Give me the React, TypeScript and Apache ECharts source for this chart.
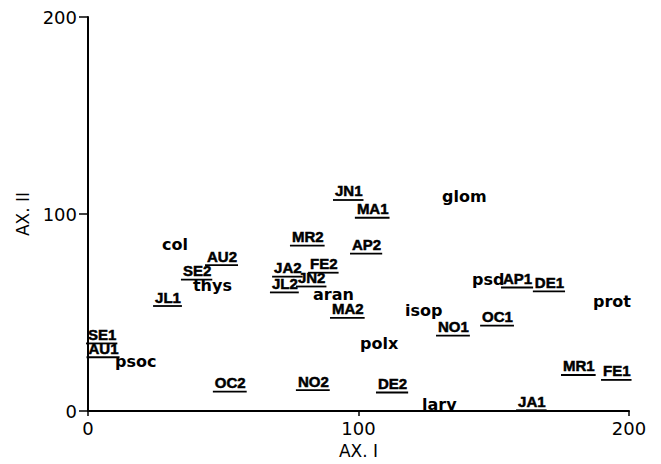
import React, { useEffect, useRef } from "react";
import * as echarts from "echarts";

// Sample labels (underlined)
const sampleNames = ["JN1", "MA1", "MR2", "AP2", "AU2", "SE2", "JL1", "JA2", "FE2", "JL2", "JN2", "MA2", "AP1", "DE1", "NO1", "OC1", "MR1", "FE1", "DE2", "JA1", "SE1", "AU1", "OC2", "NO2"];
const sampleX = [91.3, 99.4, 75.4, 97.6, 44.0, 35.1, 24.8, 68.8, 82.1, 68.0, 77.6, 90.2, 153.4, 165.2, 129.4, 145.7, 175.6, 190.4, 107.2, 159.0, 0, 0.2, 46.9, 77.6];
const sampleY = [111.7, 102.7, 88.5, 84.5, 78.6, 71.3, 57.9, 72.8, 74.8, 64.8, 67.8, 51.9, 67.3, 65.3, 42.9, 47.9, 22.9, 20.4, 14.0, 5.0, 38.9, 31.9, 14.5, 15.2];

// Taxa labels (not underlined)
const taxaNames = ["glom", "col", "thys", "aran", "psd", "prot", "isop", "polx", "larv", "psoc"];
const taxaX = [130.9, 27.4, 38.8, 83.2, 142.0, 186.7, 117.2, 100.6, 123.5, 10.0];
const taxaY = [108.7, 84.8, 63.8, 59.4, 66.8, 55.4, 50.9, 34.4, 3.5, 25.4];

const xTicks = [0, 100, 200];
const yTicks = [0, 100, 200];

const SAMPLE_FONT = "bold 15px 'Liberation Sans'";
const TAXA_FONT = "bold 16px 'DejaVu Sans'";

function measure(text: string, font: string): number {
  const c = document.createElement("canvas").getContext("2d");
  if (!c) return text.length * 9;
  c.font = font;
  return c.measureText(text).width;
}

export default function App() {
  const ref = useRef<HTMLDivElement>(null);
  useEffect(() => {
    if (!ref.current) return;
    const chart = echarts.init(ref.current, null, { renderer: "svg" });
    const sampleData = sampleNames.map((n, i) => [sampleX[i], sampleY[i], n]);
    const taxaData = taxaNames.map((n, i) => [taxaX[i], taxaY[i], n]);
    const axisLabelStyle = { color: "#000", fontFamily: "DejaVu Sans", fontSize: 18 };
    chart.setOption({
      animation: false,
      backgroundColor: "#fff",
      grid: { left: 88, right: 32, top: 17, bottom: 46 },
      xAxis: {
        type: "value",
        min: 0,
        max: 200,
        interval: 100,
        name: "AX. I",
        nameLocation: "middle",
        nameGap: 26,
        nameTextStyle: { color: "#000", fontFamily: "DejaVu Sans", fontSize: 17 },
        axisLine: { show: true, lineStyle: { color: "#000", width: 2 } },
        axisTick: { show: true, length: 5, lineStyle: { color: "#000", width: 1.5 } },
        axisLabel: { ...axisLabelStyle, margin: 8, formatter: (v: number) => (xTicks.includes(v) ? String(v) : "") },
        splitLine: { show: false },
      },
      yAxis: {
        type: "value",
        min: 0,
        max: 200,
        interval: 100,
        name: "AX. II",
        nameLocation: "middle",
        nameGap: 54,
        nameTextStyle: { color: "#000", fontFamily: "DejaVu Sans", fontSize: 17 },
        axisLine: { show: true, lineStyle: { color: "#000", width: 2 } },
        axisTick: { show: true, length: 9, lineStyle: { color: "#000", width: 1.5 } },
        axisLabel: { ...axisLabelStyle, margin: 11, formatter: (v: number) => (yTicks.includes(v) ? String(v) : "") },
        splitLine: { show: false },
      },
      series: [
        {
          type: "custom",
          name: "samples",
          data: sampleData,
          clip: false,
          renderItem: (params: any, api: any) => {
            const pt = api.coord([api.value(0), api.value(1)]);
            const text = sampleNames[params.dataIndex];
            const w = measure(text, SAMPLE_FONT);
            return {
              type: "group",
              children: [
                {
                  type: "text",
                  x: pt[0],
                  y: pt[1],
                  style: { text, font: SAMPLE_FONT, fill: "#000", stroke: "#000", lineWidth: 0.5, align: "left", verticalAlign: "middle" },
                },
                {
                  type: "line",
                  shape: { x1: pt[0] - 2, y1: pt[1] + 9, x2: pt[0] + w + 1, y2: pt[1] + 9 },
                  style: { stroke: "#000", lineWidth: 1.8 },
                },
              ],
            };
          },
        },
        {
          type: "custom",
          name: "taxa",
          data: taxaData,
          clip: false,
          renderItem: (params: any, api: any) => {
            const pt = api.coord([api.value(0), api.value(1)]);
            const text = taxaNames[params.dataIndex];
            return {
              type: "text",
              x: pt[0],
              y: pt[1],
              style: { text, font: TAXA_FONT, fill: "#000", align: "left", verticalAlign: "middle" },
            };
          },
        },
      ],
    });
    return () => chart.dispose();
  }, []);
  return <div ref={ref} style={{ width: 661, height: 464, position: "absolute", left: 0, top: 0 }} />;
}
